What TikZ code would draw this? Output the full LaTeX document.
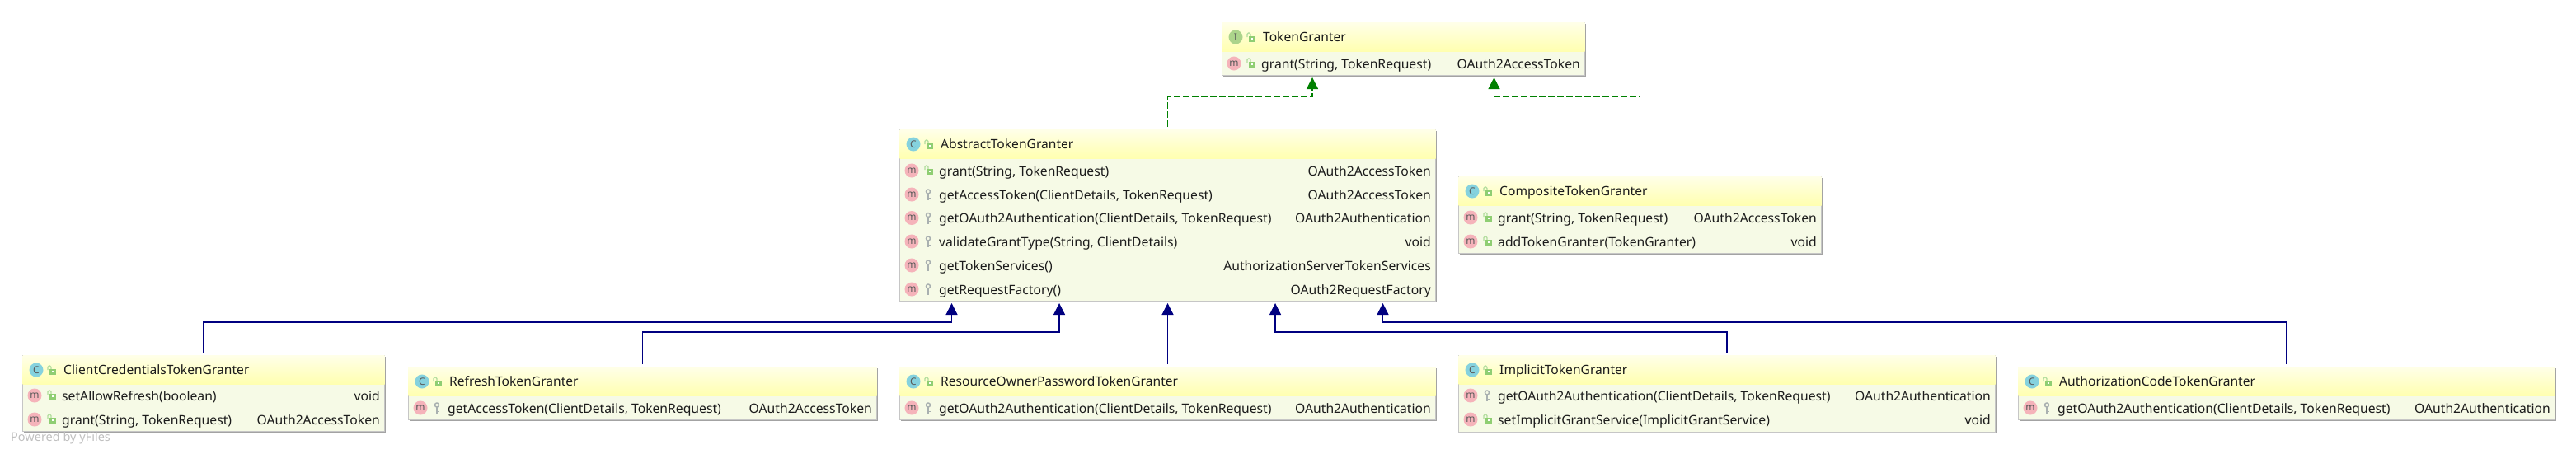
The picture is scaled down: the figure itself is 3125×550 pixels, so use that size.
\documentclass[tikz,border=0pt]{standalone}
\usepackage{fontspec}
\setmainfont{Noto Sans}
\usetikzlibrary{arrows.meta,shadows}
\definecolor{boxline}{HTML}{C6C6C6}
\definecolor{boxshadow}{HTML}{8C8C8C}
\definecolor{bodyfill}{HTML}{F6FAE6}
\definecolor{headtop}{HTML}{FFFFE8}
\definecolor{headbot}{HTML}{FFFFB0}
\definecolor{inkgreen}{HTML}{008000}
\definecolor{inkblue}{HTML}{000080}
\definecolor{lockgreen}{HTML}{8FCE73}
\definecolor{keygray}{HTML}{A9B0B0}
\definecolor{methodpink}{HTML}{F5B3BA}
\definecolor{classcyan}{HTML}{85D2DE}
\definecolor{ifacegreen}{HTML}{ACD48B}
\definecolor{textink}{HTML}{1C1C1C}
\tikzset{
    classbox/.style={draw=boxline,line width=1pt,fill=bodyfill,anchor=north west,inner sep=0pt,
        drop shadow={shadow xshift=1.5pt,shadow yshift=-1.5pt,fill=boxshadow,opacity=.8}},
    badge/.style={circle,inner sep=0pt,minimum size=17pt,text=black!65,font=\fontsize{12}{12}\selectfont},
    titletext/.style={anchor=base west,inner sep=0pt,text=textink,font=\fontsize{15.6}{15.6}\selectfont},
    signtext/.style={anchor=base west,inner sep=0pt,text=textink,font=\fontsize{15.7}{15.7}\selectfont},
    typetext/.style={anchor=base east,inner sep=0pt,text=textink,font=\fontsize{15.7}{15.7}\selectfont},
    extends/.style={draw=inkblue,line width=1.2pt,-{Triangle[width=14pt,length=14pt]}},
    implements/.style={draw=inkgreen,line width=1.2pt,dash pattern=on 8pt off 3pt,-{Triangle[width=14pt,length=14pt]}},
    lockicon/.pic={
        \draw[lockgreen!70!white,line width=1.2pt,rounded corners=1.5pt] (-4,-1) -- (-4,-6) -- (0,-6) -- (0,-2);
        \fill[lockgreen] (-2,-2) rectangle (6,5);
        \fill[white] (1,0) rectangle (3,2);
    },
    keyicon/.pic={
        \draw[keygray,line width=1.5pt] (0,-3.5) circle (2.5);
        \draw[keygray,line width=1.8pt] (0,-1) -- (0,7);
        \draw[keygray,line width=1pt] (0,4) -- (2.5,4);
    }
}
% box, x, y, width, height, badge style, letter, title
\newcommand{\umlclass}[8]{
    \node[classbox,minimum width=#4pt,minimum height=#5pt] (#1) at (#2,#3) {};
    \shade[top color=headtop,bottom color=headbot] ([shift={(.5pt,-.5pt)}]#1.north west) rectangle ([shift={(-.5pt,-35pt)}]#1.north east);
    \node[badge,fill=#6] (#1badge) at ([shift={(17pt,-18pt)}]#1.north west) {#7};
    \pic at ([shift={(35pt,-19pt)}]#1.north west) {lockicon};
    \node[titletext] (#1title) at ([shift={(50pt,-23pt)}]#1.north west) {#8};
}
% box, row name, shift down, lock or key, signature, type
\newcommand{\umlmember}[6]{
    \node[badge,fill=methodpink] (#1#2m) at ([shift={(15pt,-#3pt)}]#1.north west) {m};
    \pic at ([shift={(35pt,-#3pt)}]#1.north west) {#4};
    \node[signtext] (#1#2sign) at ([shift={(48pt,-#3pt-6pt)}]#1.north west) {#5};
    \node[typetext] (#1#2type) at ([shift={(-6pt,-#3pt-6pt)}]#1.north east) {#6};
}
\begin{document}
\begin{tikzpicture}[x=1pt,y=-1pt]
    \useasboundingbox (0,0) rectangle (3125,550);
    \umlclass{token}{1482}{27}{440}{64}{ifacegreen}{I}{TokenGranter}
    \umlmember{token}{a}{50}{lockicon}{grant(String, TokenRequest)}{OAuth2AccessToken}

    \umlclass{abstract}{1091}{157}{650}{208}{classcyan}{C}{AbstractTokenGranter}
    \umlmember{abstract}{a}{50}{lockicon}{grant(String, TokenRequest)}{OAuth2AccessToken}
    \umlmember{abstract}{b}{79}{keyicon}{getAccessToken(ClientDetails, TokenRequest)}{OAuth2AccessToken}
    \umlmember{abstract}{c}{107.5}{keyicon}{getOAuth2Authentication(ClientDetails, TokenRequest)}{OAuth2Authentication}
    \umlmember{abstract}{d}{136}{keyicon}{validateGrantType(String, ClientDetails)}{void}
    \umlmember{abstract}{e}{165}{keyicon}{getTokenServices()}{AuthorizationServerTokenServices}
    \umlmember{abstract}{f}{194}{keyicon}{getRequestFactory()}{OAuth2RequestFactory}

    \umlclass{composite}{1769}{214}{440}{93}{classcyan}{C}{CompositeTokenGranter}
    \umlmember{composite}{a}{50}{lockicon}{grant(String, TokenRequest)}{OAuth2AccessToken}
    \umlmember{composite}{b}{79}{lockicon}{addTokenGranter(TokenGranter)}{void}

    \umlclass{client}{27}{431}{439}{92}{classcyan}{C}{ClientCredentialsTokenGranter}
    \umlmember{client}{a}{49}{lockicon}{setAllowRefresh(boolean)}{void}
    \umlmember{client}{b}{78}{lockicon}{grant(String, TokenRequest)}{OAuth2AccessToken}

    \umlclass{refresh}{495}{445}{568}{64}{classcyan}{C}{RefreshTokenGranter}
    \umlmember{refresh}{a}{50}{keyicon}{getAccessToken(ClientDetails, TokenRequest)}{OAuth2AccessToken}

    \umlclass{owner}{1091}{445}{650}{64}{classcyan}{C}{ResourceOwnerPasswordTokenGranter}
    \umlmember{owner}{a}{50}{keyicon}{getOAuth2Authentication(ClientDetails, TokenRequest)}{OAuth2Authentication}

    \umlclass{implicit}{1769}{431}{651}{93}{classcyan}{C}{ImplicitTokenGranter}
    \umlmember{implicit}{a}{49}{keyicon}{getOAuth2Authentication(ClientDetails, TokenRequest)}{OAuth2Authentication}
    \umlmember{implicit}{b}{78}{lockicon}{setImplicitGrantService(ImplicitGrantService)}{void}

    \umlclass{authcode}{2448}{445}{651}{64}{classcyan}{C}{AuthorizationCodeTokenGranter}
    \umlmember{authcode}{a}{50}{keyicon}{getOAuth2Authentication(ClientDetails, TokenRequest)}{OAuth2Authentication}

    \node[anchor=base west,inner sep=0pt,text=black!25,font=\fontsize{14.5}{14.5}\selectfont] (powered) at (13,535) {Powered by yFiles};

    \draw[implements] ([yshift=3pt]abstract.north) -- ++(0,-37) -| ([xshift=-110.5pt,yshift=-2pt]token.south);
    \draw[implements] ([yshift=3pt]composite.north) -- ++(0,-94) -| ([xshift=110pt,yshift=-2pt]token.south);
    \draw[extends] ([yshift=3pt]client.north) -- ++(0,-37) -| ([xshift=-262pt,yshift=-2pt]abstract.south);
    \draw[extends] ([yshift=3pt]refresh.north) -- ++(0,-39) -| ([xshift=-131.5pt,yshift=-2pt]abstract.south);
    \draw[extends] ([yshift=3pt]owner.north) -- ([yshift=-2pt]abstract.south);
    \draw[extends] ([yshift=3pt]implicit.north) -- ++(0,-25) -| ([xshift=130.5pt,yshift=-2pt]abstract.south);
    \draw[extends] ([yshift=3pt]authcode.north) -- ++(0,-51) -| ([xshift=261pt,yshift=-2pt]abstract.south);
\end{tikzpicture}
\end{document}
